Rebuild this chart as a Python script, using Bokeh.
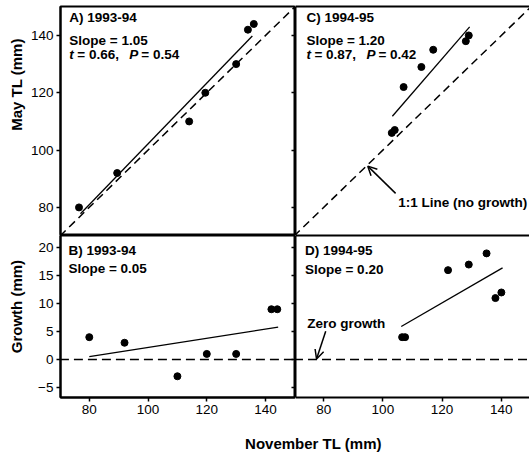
import math
from bokeh.plotting import figure
from bokeh.layouts import row, column
from bokeh.models import Range1d, FixedTicker, LinearAxis, Label, Arrow, OpenHead
from bokeh.embed import file_html
from bokeh.resources import INLINE

FONT = "Liberation Sans"

# ---------------- data ----------------
x_ticks = [80, 100, 120, 140]
y_ticks_tl = [80, 100, 120, 140]
y_ticks_growth = [-5, 0, 5, 10, 15, 20]

# A) 1993-94 : November TL (x) vs May TL (y)
a_nov = [76.5, 89.5, 114, 119.5, 130, 134, 136]
a_may = [80, 92, 110, 120, 130, 142, 144]
a_fit_nov = [77, 135.5]
a_fit_may = [77.8, 139.8]

# C) 1994-95
c_nov = [103, 104, 107, 113, 117, 128, 129]
c_may = [106, 107, 122, 129, 135, 138, 140]
c_fit_nov = [103.2, 129.3]
c_fit_may = [111.8, 143.0]

# B) 1993-94 : growth
b_tl = [80, 92, 110, 120, 130, 142, 144]
b_growth = [4, 3, -3, 1, 1, 9, 9]
b_fit_tl = [80, 144.3]
b_fit_growth = [0.5, 5.8]

# D) 1994-95 : growth
d_tl = [106.5, 107.5, 122, 129, 135, 138, 140]
d_growth = [4, 4, 16, 17, 19, 11, 12]
d_fit_tl = [106.2, 140.4]
d_fit_growth = [5.9, 16.4]

# reference lines
ref_1to1 = [70, 150]
ref_zero_x = [70, 150]
ref_zero_y = [0, 0]

left_x_range = (70.2, 150.2)
right_x_range = (70.5, 149.5)
tl_range = (70.2, 150.1)
growth_range = (-6.8, 22.2)

# ---------------- layout sizes ----------------
YSTRIP_W = 26
LEFT_BORDER = 34
LEFT_FRAME_W = 235
RIGHT_FRAME_W = 234
TOP_BORDER = 6
TOP_FRAME_H = 229
BOT_FRAME_H = 162
BOT_BORDER = 28
XSTRIP_H = 28
TOTAL_W = YSTRIP_W + LEFT_BORDER + LEFT_FRAME_W + RIGHT_FRAME_W
GRID_H = TOP_BORDER + TOP_FRAME_H + BOT_FRAME_H + BOT_BORDER


def make_fig(width, height, xr, yr, left=0, top=0, bottom=0, outline=True):
    p = figure(width=width, height=height,
               x_range=Range1d(*xr), y_range=Range1d(*yr),
               output_backend="svg", toolbar_location=None,
               x_axis_location=None, y_axis_location=None)
    p.min_border_left = left
    p.min_border_right = 0
    p.min_border_top = top
    p.min_border_bottom = bottom
    p.grid.visible = False
    p.background_fill_color = "white"
    p.border_fill_color = "white"
    if outline:
        p.outline_line_color = "black"
        p.outline_line_width = 2
        p.outline_line_alpha = 1
    else:
        p.outline_line_color = None
    return p


def axis(ticks, labels=True, tick_in=0, tick_out=4):
    ax = LinearAxis(ticker=FixedTicker(ticks=ticks, minor_ticks=[]))
    ax.axis_line_color = "black"
    ax.axis_line_width = 2
    ax.major_tick_line_color = "black"
    ax.major_tick_line_width = 1.5
    ax.major_tick_in = tick_in
    ax.major_tick_out = tick_out
    ax.minor_tick_line_color = None
    ax.major_label_text_font = FONT
    if labels:
        ax.major_label_text_color = "black"
        ax.major_label_text_font_size = "13.5px"
        ax.major_label_standoff = 3
    else:
        ax.major_label_text_color = None
        ax.major_label_text_font_size = "0px"
        ax.major_label_standoff = 0
    return ax


def line_only():
    return axis([], labels=False, tick_in=0, tick_out=0)


def txt(p, x, y, s, style="bold", align="left", size="13.5px", x_offset=0):
    p.add_layout(Label(x=x, y=y, text=s, text_font=FONT, text_font_size=size,
                       text_font_style=style, text_color="black",
                       text_align=align, text_baseline="middle", x_offset=x_offset))


def t_p_line(p, x, y, tval, pval):
    txt(p, x, y, "t", style="bold italic")
    txt(p, x, y, "= " + tval + ",", x_offset=8)
    txt(p, x, y, "P", style="bold italic", x_offset=60)
    txt(p, x, y, "= " + pval, x_offset=72)


# ---------------- A ----------------
pa = make_fig(LEFT_BORDER + LEFT_FRAME_W, TOP_BORDER + TOP_FRAME_H, left_x_range, tl_range,
              left=LEFT_BORDER, top=TOP_BORDER)
pa.add_layout(axis(y_ticks_tl), "left")
pa.add_layout(axis(y_ticks_tl, labels=False, tick_in=4, tick_out=0), "right")
pa.line(ref_1to1, ref_1to1, line_color="black", line_width=1.5, line_dash="8 5")
pa.line(a_fit_nov, a_fit_may, line_color="black", line_width=1.3)
pa.scatter(a_nov, a_may, size=7, color="black")
txt(pa, 73.2, 146.2, "A)  1993-94")
txt(pa, 73.2, 138.3, "Slope = 1.05")
t_p_line(pa, 73.2, 133.3, "0.66", "0.54")

# ---------------- C ----------------
pc = make_fig(RIGHT_FRAME_W, TOP_BORDER + TOP_FRAME_H, right_x_range, tl_range,
              top=TOP_BORDER, outline=False)
pc.add_layout(line_only(), "above")
pc.add_layout(line_only(), "below")
pc.add_layout(line_only(), "left")
pc.line(ref_1to1, ref_1to1, line_color="black", line_width=1.5, line_dash="8 5")
pc.line(c_fit_nov, c_fit_may, line_color="black", line_width=1.3)
pc.scatter(c_nov, c_may, size=7, color="black")
txt(pc, 74.2, 146.2, "C)  1994-95")
txt(pc, 74.2, 138.3, "Slope = 1.20")
t_p_line(pc, 74.2, 133.3, "0.87", "0.42")
txt(pc, 148.7, 81.6, "1:1 Line (no growth)", align="right")
pc.add_layout(Arrow(x_start=104.3, y_start=84.9, x_end=94.9, y_end=94.4,
                    line_color="black", line_width=1.5,
                    end=OpenHead(size=9, line_width=1.5, line_color="black")))

# ---------------- B ----------------
pb = make_fig(LEFT_BORDER + LEFT_FRAME_W, BOT_FRAME_H + BOT_BORDER, left_x_range, growth_range,
              left=LEFT_BORDER, bottom=BOT_BORDER)
pb.add_layout(axis(y_ticks_growth), "left")
pb.add_layout(axis(y_ticks_growth, labels=False, tick_in=4, tick_out=0), "right")
pb.add_layout(axis(x_ticks), "below")
pb.line(ref_zero_x, ref_zero_y, line_color="black", line_width=1.5, line_dash="9 5")
pb.line(b_fit_tl, b_fit_growth, line_color="black", line_width=1.3)
pb.scatter(b_tl, b_growth, size=7, color="black")
txt(pb, 72.9, 19.6, "B)  1993-94")
txt(pb, 72.9, 16.25, "Slope = 0.05")

# ---------------- D ----------------
pd_ = make_fig(RIGHT_FRAME_W, BOT_FRAME_H + BOT_BORDER, right_x_range, growth_range,
               bottom=BOT_BORDER, outline=False)
pd_.add_layout(line_only(), "above")
pd_.add_layout(line_only(), "left")
pd_.add_layout(axis(x_ticks), "below")
pd_.line(ref_zero_x, ref_zero_y, line_color="black", line_width=1.5, line_dash="9 5")
pd_.line(d_fit_tl, d_fit_growth, line_color="black", line_width=1.3)
pd_.scatter(d_tl, d_growth, size=7, color="black")
txt(pd_, 73.7, 19.5, "D)  1994-95")
txt(pd_, 73.7, 16.1, "Slope = 0.20")
txt(pd_, 74.5, 6.5, "Zero growth")
pd_.add_layout(Arrow(x_start=80.7, y_start=5.05, x_end=77.6, y_end=0.1,
                     line_color="black", line_width=1.5,
                     end=OpenHead(size=9, line_width=1.5, line_color="black")))


def strip_fig(w, h):
    s = figure(width=w, height=h, x_range=Range1d(0, w), y_range=Range1d(0, h),
               output_backend="svg", toolbar_location=None,
               x_axis_location=None, y_axis_location=None, min_border=0)
    s.grid.visible = False
    s.outline_line_color = None
    s.background_fill_color = "white"
    s.border_fill_color = "white"
    return s


def title_label(text, x, y, angle=0.0):
    return Label(x=x, y=y, text=text, angle=angle,
                 text_font=FONT, text_font_size="15px", text_font_style="bold",
                 text_color="black", text_align="center", text_baseline="middle")


# ---------------- y-axis titles strip ----------------
ystrip = strip_fig(YSTRIP_W, GRID_H)
ystrip.add_layout(title_label("May TL  (mm)", 15.5, GRID_H - 82, math.pi / 2))
ystrip.add_layout(title_label("Growth  (mm)", 15.5, GRID_H - 304, math.pi / 2))

# ---------------- x-axis title strip ----------------
xstrip = strip_fig(TOTAL_W, XSTRIP_H)
xstrip.add_layout(title_label("November TL  (mm)", 315, 10))

layout = column(row(ystrip, column(row(pa, pc), row(pb, pd_))), xstrip)

with open("out.html", "w") as f:
    f.write(file_html(layout, INLINE))
